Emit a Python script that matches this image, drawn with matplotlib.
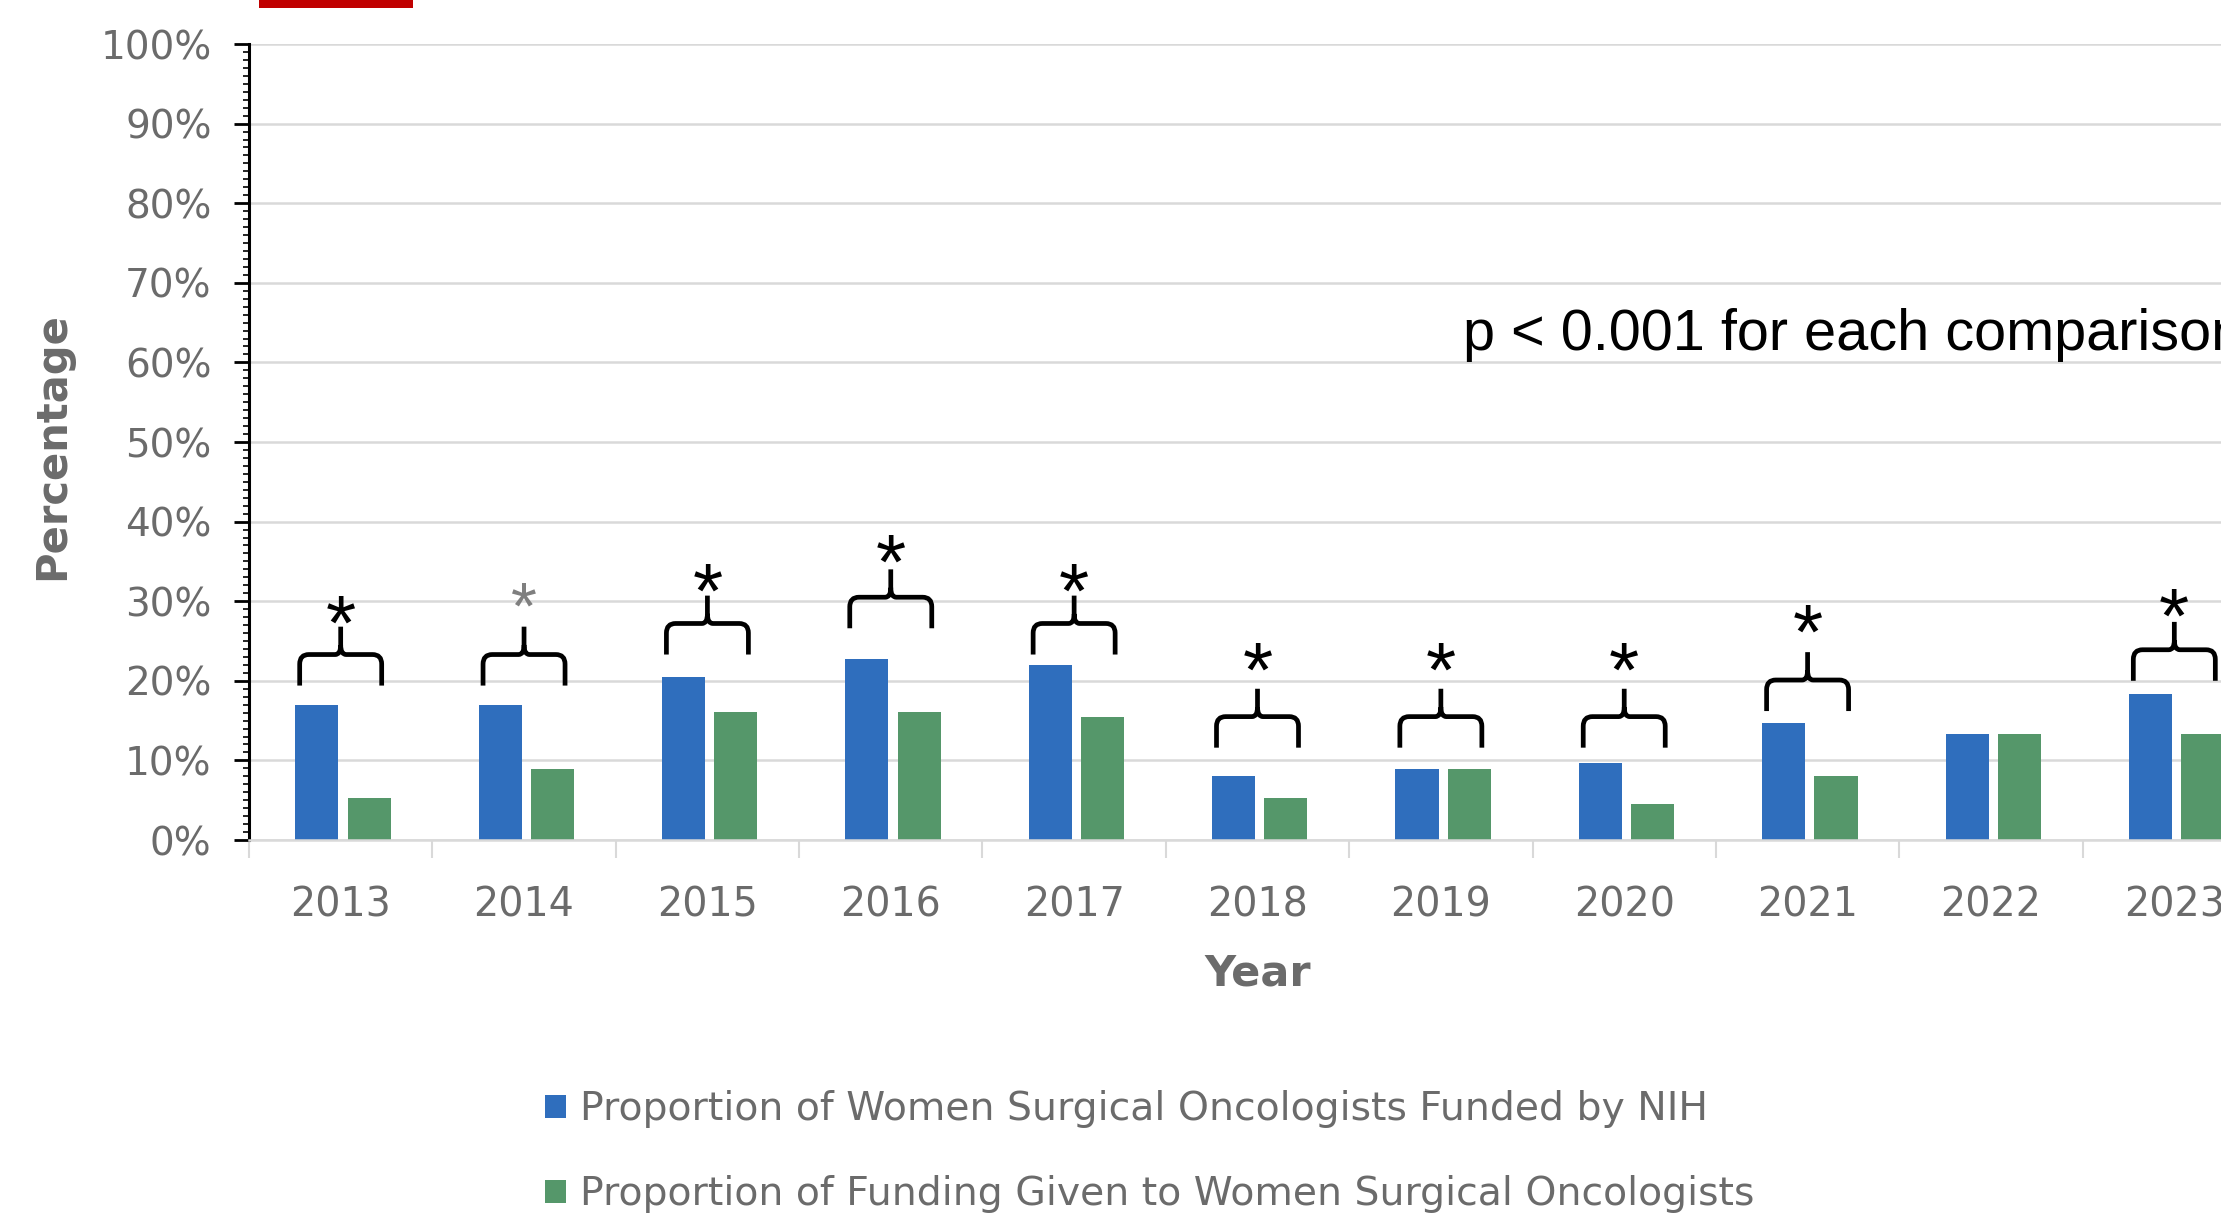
import matplotlib
matplotlib.use("Agg")
import matplotlib.pyplot as plt
from matplotlib.path import Path
from matplotlib.patches import PathPatch, Patch, Rectangle
from matplotlib.ticker import PercentFormatter, MultipleLocator, FixedLocator
import numpy as np

# ---------------- data ----------------
years = ["2013", "2014", "2015", "2016", "2017", "2018", "2019", "2020", "2021", "2022", "2023"]
women_funded_pct = [16.9, 16.9, 20.5, 22.7, 22.0, 8.1, 8.9, 9.7, 14.7, 13.3, 18.3]
funding_given_pct = [5.3, 8.9, 16.1, 16.1, 15.4, 5.3, 8.9, 4.5, 8.1, 13.3, 13.3]
series_labels = ["Proportion of Women Surgical Oncologists Funded by NIH",
                 "Proportion of Funding Given to Women Surgical Oncologists"]
# significance brackets: level of bracket legs (%), None = no bracket
bracket_base_pct = [19.4, 19.4, 23.3, 26.6, 23.3, 11.6, 11.6, 11.6, 16.2, None, 20.0]
star_level_pct = [28.6, 30.5, 32.6, 36.2, 32.6, 22.7, 22.7, 22.7, 27.4, None, 29.5]
annotation_text = "p < 0.001 for each comparison"

BLUE = "#2F6EBD"
GREEN = "#55976A"
GRID = "#D9D9D9"
LABEL_GRAY = "#6B6B6B"
WIDE = ["DejaVu Sans"]

plt.rcParams["font.family"] = ["Liberation Sans", "DejaVu Sans"]

W, H = 2221, 1214
fig = plt.figure(figsize=(W / 100, H / 100), dpi=100)
ax_left, ax_right, ax_top, ax_bot = 249, 2266, 44, 840
ax = fig.add_axes([ax_left / W, 1 - ax_bot / H, (ax_right - ax_left) / W, (ax_bot - ax_top) / H])

x = np.arange(len(years))
bw = 0.235
ax.bar(x - 0.13, np.array(women_funded_pct) / 100, width=bw, color=BLUE, zorder=2,
       label=series_labels[0])
ax.bar(x + 0.155, np.array(funding_given_pct) / 100, width=bw, color=GREEN, zorder=2,
       label=series_labels[1])

ax.set_xlim(-0.5, len(years) - 0.5)
ax.set_ylim(0, 1.0)

# y axis
ax.yaxis.set_major_locator(MultipleLocator(0.1))
ax.yaxis.set_minor_locator(MultipleLocator(0.01))
ax.yaxis.set_major_formatter(PercentFormatter(1.0, decimals=0))
ax.tick_params(axis="y", which="major", length=11, width=2, color="black",
               labelsize=28, labelcolor=LABEL_GRAY, pad=16)
ax.tick_params(axis="y", which="minor", length=4, width=1.2, color="black")
ax.grid(axis="y", which="major", color=GRID, linewidth=1.8, zorder=0)
ax.set_axisbelow(True)

# x axis
ax.set_xticks(x)
ax.set_xticklabels(years)
ax.xaxis.set_minor_locator(FixedLocator(np.arange(-0.5, len(years), 1.0)))
ax.tick_params(axis="x", which="major", length=0, labelsize=28.5, labelcolor=LABEL_GRAY, pad=33)
ax.tick_params(axis="x", which="minor", length=13, width=1.5, color=GRID)
for lab in ax.get_xticklabels() + ax.get_yticklabels():
    lab.set_family(WIDE)

for s in ["top", "right"]:
    ax.spines[s].set_visible(False)
ax.spines["left"].set_color("black")
ax.spines["left"].set_linewidth(2.2)
ax.spines["bottom"].set_color(GRID)
ax.spines["bottom"].set_linewidth(1.8)

# brackets
half = 0.2236
rx = 0.05
ry = 0.012
for i, base in enumerate(bracket_base_pct):
    if base is None:
        continue
    yb = base / 100
    ym = yb + 0.039
    yt = yb + 0.074
    xl, xr = i - half, i + half
    verts = [(xl, yb), (xl, ym - ry), (xl, ym), (xl + rx, ym),
             (i - rx * 0.6, ym), (i, ym), (i, ym + ry), (i, yt),
             (i, ym + ry), (i, ym), (i + rx * 0.6, ym),
             (xr - rx, ym), (xr, ym), (xr, ym - ry), (xr, yb)]
    codes = [Path.MOVETO, Path.LINETO, Path.CURVE3, Path.CURVE3,
             Path.LINETO, Path.CURVE3, Path.CURVE3, Path.LINETO,
             Path.MOVETO, Path.CURVE3, Path.CURVE3,
             Path.LINETO, Path.CURVE3, Path.CURVE3, Path.LINETO]
    ax.add_patch(PathPatch(Path(verts, codes), fill=False, edgecolor="black",
                           linewidth=3.4, capstyle="butt", joinstyle="round", zorder=3))
    small = (i == 1)
    fs = 48 if small else 56
    ax.annotate("*", xy=(i, star_level_pct[i] / 100), xytext=(0, -0.548 * fs + 4),
                textcoords="offset points", ha="center", va="baseline",
                fontsize=fs, color="#7F7F7F" if small else "black", zorder=4)

ax.text(6.12, 0.616, annotation_text, fontsize=41.5, color="black",
        ha="left", va="baseline", zorder=4)

# axis titles
fig.text(52 / W, 1 - 446 / H, "Percentage", rotation=90, ha="center", va="center",
         fontsize=30, fontweight="bold", color=LABEL_GRAY, family=WIDE)
fig.text(1258 / W, 1 - 973 / H, "Year", ha="center", va="center",
         fontsize=31, fontweight="bold", color=LABEL_GRAY, family=WIDE)

# legend
handles = [Patch(facecolor=BLUE, edgecolor="none"), Patch(facecolor=GREEN, edgecolor="none")]
leg = fig.legend(handles, series_labels, loc="upper left",
                 bbox_to_anchor=(545 / W, 1 - 1090 / H), frameon=False, ncol=1,
                 prop={"family": WIDE, "size": 28.4}, labelcolor=LABEL_GRAY,
                 handlelength=0.52, handleheight=0.52,
                 handletextpad=0.38, labelspacing=1.2, borderpad=0, borderaxespad=0)

# red mark at top (cropped header)
fig.add_artist(Rectangle((259 / W, 1 - 8 / H), 154 / W, 10 / H, transform=fig.transFigure,
                         facecolor="#C00000", edgecolor="none"))

fig.savefig("out.png", dpi=100)
